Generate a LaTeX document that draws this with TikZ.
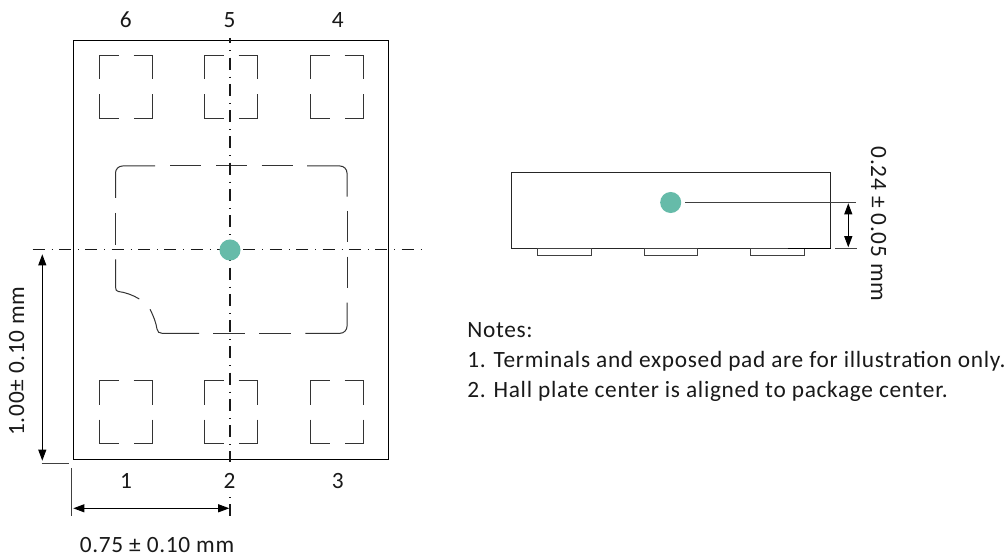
\documentclass[tikz,border=0pt]{standalone}
\usepackage{fontspec}
\setmainfont{Carlito}
\newfontfamily\labfont[LetterSpace=3]{Carlito}
\usetikzlibrary{arrows.meta}
\definecolor{hall}{HTML}{66BBA9}
\tikzset{
  pkg/.style={draw=black,line width=1.1pt},
  thin line/.style={draw=black!75,line width=0.75pt},
  centerv/.style={draw=black!90,line width=0.95pt,dash pattern=on 9pt off 5.2pt on .75pt off 4.74pt},
  centerh/.style={draw=black!90,line width=1pt,dash pattern=on 9pt off 5.25pt on .75pt off 4.76pt},
  padline/.style={draw=black!80,line width=0.75pt},
  dim/.style={draw=black,line width=0.75pt,{Triangle[length=8.3pt,width=6pt]}-{Triangle[length=8.3pt,width=6pt]}},
  lab/.style={font=\labfont\fontsize{17.5pt}{20pt}\selectfont,text=black!90,inner sep=0pt,anchor=base},
  hallspot/.style={circle,fill=hall,draw=none,minimum size=15.8pt,inner sep=0pt},
}
\begin{document}
\begin{tikzpicture}[x=0.75pt,y=-0.75pt]
\useasboundingbox (0,0) rectangle (1008,556);
\fill[white] (0,0) rectangle (1008,556);
% package
\draw[pkg] (73.5,40.5) rectangle (388.5,459.5);
% terminal pads (top view)
\foreach \px in {99.5,204.5,310.5}{
 \foreach \py in {55.5,380.5}{
  \draw[padline] (\px+19,\py) -- (\px,\py) -- (\px,\py+24);
  \draw[padline] (\px+34,\py) -- (\px+53,\py) -- (\px+53,\py+24);
  \draw[padline] (\px,\py+39) -- (\px,\py+63) -- (\px+19,\py+63);
  \draw[padline] (\px+53,\py+39) -- (\px+53,\py+63) -- (\px+34,\py+63);
 }}
% exposed pad
\draw[padline] (115.5,198) -- (115.5,173) arc[start angle=180,end angle=270,radius=7] (122.5,166) -- (155,166);
\draw[padline] (115.5,213) -- (115.5,245);
\draw[padline] (115.5,259.3) -- (115.5,287) .. controls (115.5,290) and (116.5,291.3) .. (118.5,291.5) .. controls (125,292.3) and (133,295) .. (139.3,299);
\draw[padline] (150,309.3) .. controls (154,317) and (156,323) .. (157,329) .. controls (157.6,332) and (159,333.3) .. (162,333.3) -- (199,333.3);
\foreach \a/\b in {170/201,216/247,261.7/293}{\draw[padline] (\a,166) -- (\b,166);}
\draw[padline] (307,166) -- (340,166) arc[start angle=-90,end angle=0,radius=7] (347,173) -- (347,196.7);
\foreach \a/\b in {211/242,256.7/287.7}{\draw[padline] (347,\a) -- (347,\b);}
\draw[padline] (347,302.7) -- (347,326.3) arc[start angle=0,end angle=90,radius=7] (340,333.3) -- (305.3,333.3);
\foreach \a/\b in {213.3/245,259.3/291}{\draw[padline] (\a,333.3) -- (\b,333.3);}
% centre lines
\coordinate (vt) at (230,38);
\coordinate (vm) at (230,462);
\coordinate (vn) at (230,497);
\coordinate (vb) at (230,516.7);
\coordinate (hl) at (32.7,249.5);
\coordinate (hr) at (422.5,249.5);
\draw[centerv,dash phase=5pt] (vt) -- (vm);
\draw[centerv,dash phase=14.2pt] (vn) -- (vb);
\draw[centerh] (hl) -- (hr);
\node[hallspot] (spotA) at (230,250) {};
% side view
\draw[draw=black!85,line width=0.75pt] (511.5,172.5) rectangle (830.5,248.5);
\foreach \px in {537.5,644,750.5}{\draw[thin line] (\px,248.5) rectangle (\px+53.5,255.5);}
\coordinate (blk1) at (788,248.5);
\coordinate (blk2) at (830.5,248.5);
\draw[black,line width=0.85pt] (blk1) -- (blk2);
\node[hallspot] (spotB) at (670.7,202.5) {};
\coordinate (lva) at (685.3,202.7);
\coordinate (lvl) at (856,202.7);
\coordinate (lvc) at (835,248.5);
\coordinate (lvb) at (857,248.5);
\draw[thin line] (lva) -- (lvl);
\draw[thin line] (lvc) -- (lvb);
\coordinate (da) at (848.3,203.3);
\coordinate (db) at (848.3,247.3);
\draw[dim] (da) -- (db);
% dimensions
\coordinate (d1a) at (42.3,254.3);
\coordinate (d1b) at (42.3,460.7);
\draw[dim] (d1a) -- (d1b);
\coordinate (e1a) at (41.7,463.7);
\coordinate (e1b) at (69,463.7);
\draw[thin line] (e1a) -- (e1b);
\coordinate (e2a) at (71.7,468.3);
\coordinate (e2b) at (71.7,515.7);
\draw[thin line] (e2a) -- (e2b);
\coordinate (d2a) at (73.3,508.3);
\coordinate (d2b) at (229.3,508.3);
\draw[dim] (d2a) -- (d2b);
% labels
\node[lab] (n6) at (125.7,27.3) {6};
\node[lab] (n5) at (229.5,27.3) {5};
\node[lab] (n4) at (337.7,27.3) {4};
\node[lab] (n1) at (126,488) {1};
\node[lab] (n2) at (229.5,488) {2};
\node[lab] (n3) at (337.7,488) {3};
\node[lab,rotate=-90] (t1) at (871,224) {0.24 ± 0.05 mm};
\node[lab,rotate=90] (t2) at (24,361) {1.00± 0.10 mm};
\node[lab] (t3) at (157,552) {0.75 ± 0.10 mm};
\node[lab,anchor=base west] (n0) at (467,337.7) {Notes:};
\node[lab,anchor=base west] (n7) at (467,367.7) {1. Terminals and exposed pad are for illustration only.};
\node[lab,anchor=base west] (n8) at (467,397.7) {2. Hall plate center is aligned to package center.};
\end{tikzpicture}
\end{document}
